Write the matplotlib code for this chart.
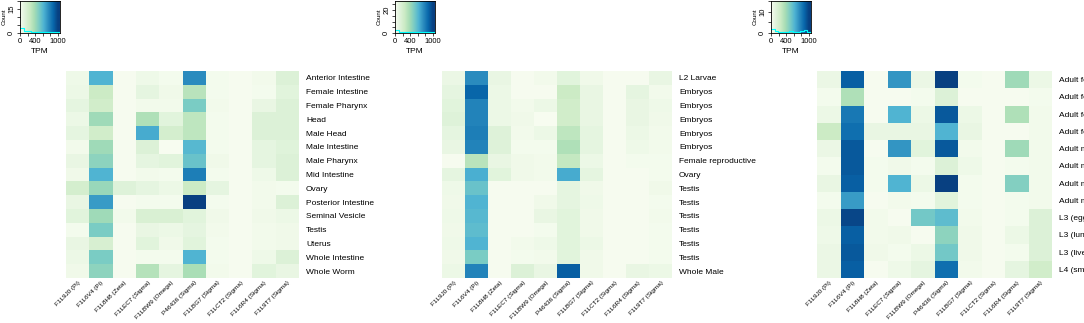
import numpy as np
import matplotlib
matplotlib.use('Agg')
import matplotlib.pyplot as plt

plt.rcParams['font.family'] = ['Liberation Sans', 'DejaVu Sans']

# colunas (proteinas)
genes = ['F1L9J0 (Pi)', 'F1L6V4 (Pi)', 'F1L8H8 (Zeta)', 'F1LEC7 (Sigma)', 'F1LBW9 (Omega)',
         'P46436 (Sigma)', 'F1LBG7 (Sigma)', 'F1LCT2 (Sigma)', 'F1L6R4 (Sigma)', 'F1L9T7 (Sigma)']

# painel 1 - tecidos
rows1 = ['Anterior Intestine', 'Female Intestine', 'Female Pharynx', 'Head', 'Male Head',
         'Male Intestine', 'Male Pharynx', 'Mid Intestine', 'Ovary', 'Posterior Intestine',
         'Seminal Vesicle', 'Testis', 'Uterus', 'Whole Intestine', 'Whole Worm']
tpm1 = [
    [50, 620, 10, 50, 20, 750, 20, 10, 30, 150],
    [60, 250, 10, 100, 40, 320, 20, 10, 20, 120],
    [100, 220, 10, 30, 30, 500, 30, 10, 80, 150],
    [60, 400, 10, 350, 120, 300, 20, 10, 150, 150],
    [100, 220, 10, 650, 200, 300, 20, 10, 150, 150],
    [30, 400, 10, 150, 0, 600, 20, 10, 100, 130],
    [80, 450, 10, 100, 120, 550, 40, 10, 100, 150],
    [40, 620, 10, 30, 20, 800, 20, 10, 50, 150],
    [200, 420, 140, 100, 60, 250, 100, 10, 30, 20],
    [80, 700, 10, 20, 20, 1000, 20, 10, 30, 150],
    [120, 400, 30, 170, 170, 120, 40, 10, 40, 60],
    [20, 500, 10, 80, 60, 100, 30, 10, 30, 40],
    [80, 180, 10, 120, 40, 120, 20, 10, 30, 40],
    [60, 500, 10, 20, 20, 620, 20, 10, 50, 150],
    [40, 450, 10, 330, 100, 370, 30, 10, 120, 80],
]

# painel 2 - estagios / tecidos
rows2 = ['L2 Larvae', 'Embryos', 'Embryos', 'Embryos', 'Embryos', 'Embryos',
         'Female reproductive', 'Ovary', 'Testis', 'Testis', 'Testis', 'Testis',
         'Testis', 'Testis', 'Whole Male']
tpm2 = [
    [70, 750, 80, 10, 30, 120, 40, 10, 10, 80],
    [100, 880, 60, 10, 10, 250, 80, 10, 100, 30],
    [120, 780, 60, 30, 60, 220, 80, 10, 80, 50],
    [140, 780, 60, 40, 0, 220, 80, 10, 80, 40],
    [100, 800, 140, 30, 60, 300, 100, 10, 60, 30],
    [80, 780, 140, 20, 20, 350, 100, 10, 50, 30],
    [10, 320, 80, 40, 30, 280, 60, 10, 20, 20],
    [100, 640, 120, 40, 30, 650, 100, 10, 10, 20],
    [50, 550, 10, 10, 10, 100, 40, 10, 10, 40],
    [40, 620, 10, 10, 40, 100, 50, 10, 10, 20],
    [50, 600, 10, 10, 80, 120, 40, 10, 10, 30],
    [40, 580, 10, 10, 20, 120, 40, 10, 10, 20],
    [50, 620, 10, 30, 50, 120, 60, 10, 10, 20],
    [40, 500, 10, 20, 30, 120, 40, 10, 10, 20],
    [60, 780, 10, 150, 80, 900, 40, 10, 80, 60],
]

# painel 3 - estagios (nomes cortados na borda)
rows3 = ['Adult female 1', 'Adult female 2', 'Adult female 3', 'Adult female 4',
         'Adult male 1', 'Adult male 2', 'Adult male 3', 'Adult male 4',
         'L3 (egg)', 'L3 (lung)', 'L3 (liver)', 'L4 (small intestine)']
tpm3 = [
    [70, 900, 10, 720, 70, 1000, 20, 10, 400, 60],
    [20, 350, 10, 10, 20, 150, 10, 10, 10, 20],
    [60, 820, 10, 620, 60, 920, 60, 10, 350, 30],
    [250, 850, 80, 80, 80, 620, 80, 10, 10, 30],
    [70, 920, 10, 720, 120, 920, 30, 10, 400, 30],
    [20, 920, 20, 40, 20, 150, 50, 10, 20, 30],
    [80, 900, 20, 620, 60, 1000, 20, 10, 480, 30],
    [20, 700, 10, 30, 20, 120, 20, 10, 20, 30],
    [60, 980, 30, 10, 520, 580, 30, 10, 20, 150],
    [50, 900, 30, 40, 10, 450, 40, 10, 60, 150],
    [70, 920, 40, 20, 60, 520, 40, 10, 20, 150],
    [70, 900, 10, 50, 100, 850, 30, 10, 100, 220],
]

# contagens do histograma da legenda (aprox.)
hist1 = [3, 1, 1, 0.5, 0.5, 0.5, 0.5, 0.5, 0.5, 0.5, 0.5]
hist2 = [3, 1, 0.5, 0.5, 0.5, 0.5, 0.5, 0.5, 0.5, 0.5, 0.5]
hist3 = [2, 1, 0.5, 0.5, 0.5, 1, 0.5, 0.5, 1, 1.5, 0.5]
count_max = [20, 28, 15]
count_tick = [15, 20, 10]

W, H = 1084, 323
fig = plt.figure(figsize=(W / 100, H / 100), dpi=100)
cmap = plt.get_cmap('GnBu')

paineis = [(rows1, tpm1, 66, 299, 20, hist1),
           (rows2, tpm2, 442, 672, 395, hist2),
           (rows3, tpm3, 817, 1052, 771, hist3)]
top, bottom = 71, 278

for i, (rows, vals, x0, x1, kx, hist) in enumerate(paineis):
    ax = fig.add_axes([x0 / W, 1 - bottom / H, (x1 - x0) / W, (bottom - top) / H])
    ax.pcolormesh(np.array(vals), cmap=cmap, vmin=0, vmax=1000)
    ax.set_xlim(0, len(genes))
    ax.set_ylim(len(rows), 0)
    ax.set_xticks(np.arange(len(genes)) + 0.5)
    ax.set_xticklabels(genes, rotation=45, ha='right', rotation_mode='anchor', fontsize=4.6)
    ax.yaxis.tick_right()
    ax.set_yticks(np.arange(len(rows)) + 0.5)
    ax.set_yticklabels(rows, fontsize=6)
    ax.tick_params(axis='y', length=0, pad=5)
    ax.tick_params(axis='x', length=0, pad=1.5)
    for s in ax.spines.values():
        s.set_visible(False)

    # legenda de cor
    kax = fig.add_axes([kx / W, 1 - 33 / H, 40 / W, 32 / H])
    grad = np.linspace(0, 1050, 200).reshape(1, -1)
    kax.imshow(grad, cmap=cmap, vmin=0, vmax=1000, aspect='auto',
               extent=[0, 1050, 0, count_max[i]])
    edges = np.linspace(0, 1050, len(hist) + 1)
    kax.step(edges, list(hist) + [hist[-1]], where='post', color='cyan', lw=0.8)
    kax.set_xlim(0, 1050)
    kax.set_xticks([0, 200, 400, 600, 800, 1000])
    kax.set_xticklabels(['0', '', '400', '', '', '1000'], fontsize=5.5)
    yt = [0, 5, 10, 15, 20, 25]
    kax.set_yticks(yt)
    kax.set_yticklabels([str(t) if t in (0, count_tick[i]) else '' for t in yt],
                        fontsize=5.5, rotation=90, va='center')
    kax.set_ylim(0, count_max[i])
    kax.tick_params(length=2, width=0.5, pad=1.5)
    kax.set_xlabel('TPM', fontsize=6, labelpad=2)
    kax.set_ylabel('Count', fontsize=4.5, labelpad=1)
    for s in kax.spines.values():
        s.set_linewidth(0.6)

fig.savefig('out.png', dpi=100)
